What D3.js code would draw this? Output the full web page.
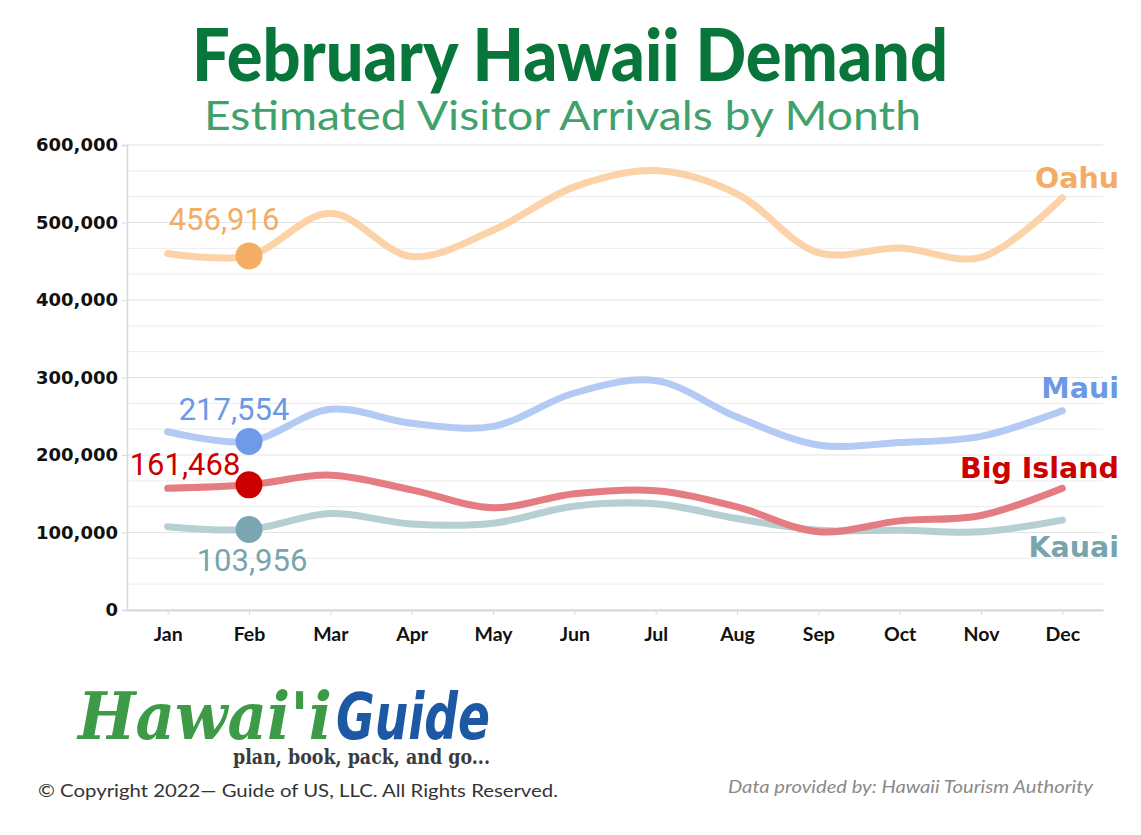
<!DOCTYPE html>
<html>
<head>
<meta charset="utf-8">
<script src="https://cdn.jsdelivr.net/npm/d3@7"></script>
<style>
  html, body { margin: 0; padding: 0; background: #ffffff; }
  svg { display: block; }
</style>
</head>
<body>
<svg id="chart" width="1141" height="835"></svg>
<script>
// ---------- DATA ----------
const months = ["Jan","Feb","Mar","Apr","May","Jun","Jul","Aug","Sep","Oct","Nov","Dec"];
const oahu      = [460000, 456916, 512000, 456000, 490000, 546000, 567000, 537000, 461000, 467000, 455000, 532000];
const maui      = [230000, 217554, 259000, 241000, 237000, 280000, 296000, 249000, 213000, 216000, 224000, 257000];
const bigIsland = [157000, 161468, 174000, 155000, 132000, 150000, 154000, 133000, 101000, 115000, 122000, 157000];
const kauai     = [107500, 103956, 124500, 111000, 112000, 134000, 137000, 118000, 103000, 103000, 101000, 116000];
const seriesNames = ["Kauai", "Big Island", "Maui", "Oahu"];
const yTicks = [0, 100000, 200000, 300000, 400000, 500000, 600000];
const highlightMonth = "Feb";
const titleText = "February Hawaii Demand";
const subtitleText = "Estimated Visitor Arrivals by Month";

// ---------- STYLE ----------
const seriesStyle = {
  "Oahu":       { values: oahu,      line: "#fcd3a8", dot: "#f5ae66", label: "#f4ac64", vdx: -25, vdy: -26, endY: 188 },
  "Maui":       { values: maui,      line: "#b2caf4", dot: "#6e9ae8", label: "#6c99e6", vdx: -15, vdy: -21, endY: 398 },
  "Big Island": { values: bigIsland, line: "#e47c81", dot: "#cc0000", label: "#cc0000", vdx: -64, vdy: -10, endY: 478 },
  "Kauai":      { values: kauai,     line: "#b5cfd3", dot: "#79a6b0", label: "#78a4ad", vdx: 3,   vdy: 42,  endY: 557 }
};

const svg = d3.select("#chart");
const pLeft = 127, pRight = 1103, pTop = 145, pBottom = 610;

const x = d3.scalePoint().domain(months).range([pLeft, pRight]).padding(0.5);
const y = d3.scaleLinear().domain([0, 600000]).range([pBottom, pTop]);

// Grid lines (every third of 100k)
const gridVals = d3.range(0, 19).map(k => k * 100000 / 3);
svg.append("g").selectAll("line").data(gridVals).join("line")
  .attr("x1", pLeft).attr("x2", pRight)
  .attr("y1", d => y(d)).attr("y2", d => y(d))
  .attr("stroke", (d, i) => (i % 3 === 0) ? "#e4e4e4" : "#efefef")
  .attr("stroke-width", 1.2);

// Y axis
const yAxis = svg.append("g").attr("transform", `translate(${pLeft},0)`)
  .call(d3.axisLeft(y).tickValues(yTicks).tickSize(5).tickPadding(4).tickFormat(d3.format(",")));
yAxis.select(".domain").attr("stroke", "#d8d8d8").attr("stroke-width", 1.5);
yAxis.selectAll(".tick line").attr("stroke", "#d8d8d8");
yAxis.selectAll(".tick text")
  .attr("fill", "#111").style("font-family", "'DejaVu Sans', sans-serif")
  .style("font-weight", "700").style("font-size", "18px");

// X axis
const xAxis = svg.append("g").attr("transform", `translate(0,${pBottom})`)
  .call(d3.axisBottom(x).tickSize(5).tickPadding(12).tickSizeOuter(0));
xAxis.select(".domain").attr("stroke", "#d8d8d8").attr("stroke-width", 1.8);
xAxis.selectAll(".tick line").attr("stroke", "#d8d8d8");
xAxis.selectAll(".tick text")
  .attr("fill", "#111").style("font-family", "Lato, 'Open Sans', sans-serif")
  .style("font-weight", "700").style("font-size", "19.5px");

// Lines
const line = d3.line()
  .x((d, i) => x(months[i]))
  .y(d => y(d))
  .curve(d3.curveCatmullRom.alpha(0.5));

svg.append("g").selectAll("path").data(seriesNames).join("path")
  .attr("d", n => line(seriesStyle[n].values))
  .attr("fill", "none")
  .attr("stroke", n => seriesStyle[n].line)
  .attr("stroke-width", 7)
  .attr("stroke-linecap", "round")
  .attr("stroke-linejoin", "round");

// Highlight dots
const hi = months.indexOf(highlightMonth);
svg.append("g").selectAll("circle").data(seriesNames).join("circle")
  .attr("cx", x(highlightMonth))
  .attr("cy", n => y(seriesStyle[n].values[hi]))
  .attr("r", 13.5)
  .attr("fill", n => seriesStyle[n].dot);

// Value labels
svg.append("g").selectAll("text").data(seriesNames).join("text")
  .attr("x", n => x(highlightMonth) + seriesStyle[n].vdx)
  .attr("y", n => y(seriesStyle[n].values[hi]) + seriesStyle[n].vdy)
  .attr("text-anchor", "middle")
  .attr("fill", n => seriesStyle[n].label)
  .style("font-family", "Roboto, sans-serif")
  .style("font-size", "31px")
  .text(n => d3.format(",")(seriesStyle[n].values[hi]));

// End labels
svg.append("g").selectAll("text").data(seriesNames).join("text")
  .attr("x", 1119)
  .attr("y", n => seriesStyle[n].endY)
  .attr("text-anchor", "end")
  .attr("fill", n => seriesStyle[n].label)
  .style("font-family", "'DejaVu Sans', sans-serif")
  .style("font-weight", "700")
  .style("font-size", "28.5px")
  .text(n => n);

// Title & subtitle
svg.append("text")
  .attr("x", 192).attr("y", 81)
  .attr("textLength", 756).attr("lengthAdjust", "spacingAndGlyphs")
  .attr("fill", "#08763a")
  .style("font-family", "Lato, sans-serif").style("font-weight", "900").style("font-size", "72px")
  .text(titleText);
svg.append("text")
  .attr("x", 204).attr("y", 130)
  .attr("textLength", 717).attr("lengthAdjust", "spacingAndGlyphs")
  .attr("fill", "#3fa26c")
  .style("font-family", "Lato, sans-serif").style("font-weight", "400").style("font-size", "41px")
  .text(subtitleText);

// Logo
const logo = svg.append("g");
logo.append("text")
  .attr("x", 78).attr("y", 739)
  .attr("textLength", 254).attr("lengthAdjust", "spacingAndGlyphs")
  .attr("fill", "#3d9b47")
  .style("font-family", "'DejaVu Serif', serif").style("font-weight", "700").style("font-style", "italic")
  .style("font-size", "66px")
  .text("Hawai'i");
logo.append("text")
  .attr("x", 336).attr("y", 739)
  .attr("textLength", 154).attr("lengthAdjust", "spacingAndGlyphs")
  .attr("fill", "#1d58a4")
  .style("font-family", "'DejaVu Sans', sans-serif").style("font-weight", "700").style("font-style", "italic")
  .style("font-size", "64px")
  .text("Guide");
logo.append("text")
  .attr("x", 233).attr("y", 764)
  .attr("textLength", 257).attr("lengthAdjust", "spacingAndGlyphs")
  .attr("fill", "#3b3b3b")
  .style("font-family", "'DejaVu Serif', serif").style("font-weight", "700")
  .style("font-size", "20px")
  .text("plan, book, pack, and go...");

// Footer
svg.append("text")
  .attr("x", 38).attr("y", 797)
  .attr("textLength", 520).attr("lengthAdjust", "spacingAndGlyphs")
  .attr("fill", "#333")
  .style("font-family", "Lato, sans-serif").style("font-size", "18px")
  .text("© Copyright 2022— Guide of US, LLC. All Rights Reserved.");
svg.append("text")
  .attr("x", 728).attr("y", 793)
  .attr("textLength", 365).attr("lengthAdjust", "spacingAndGlyphs")
  .attr("fill", "#8a8a8a")
  .style("font-family", "Lato, sans-serif").style("font-style", "italic").style("font-size", "17px")
  .text("Data provided by: Hawaii Tourism Authority");
</script>
</body>
</html>
